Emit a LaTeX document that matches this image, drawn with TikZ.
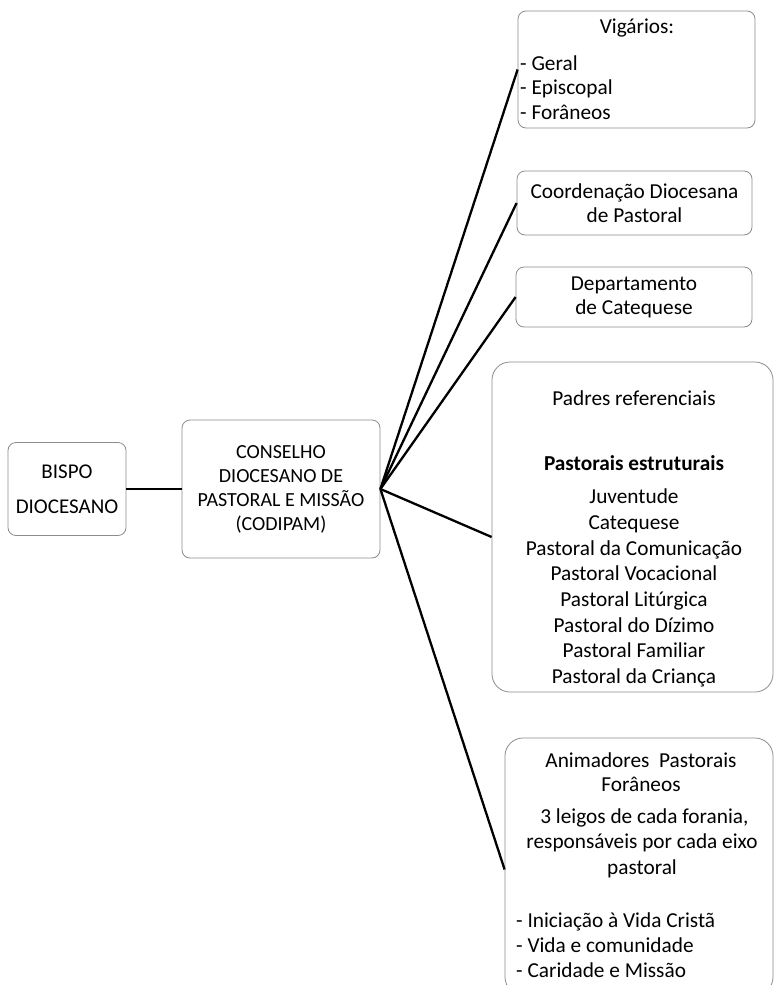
\documentclass[tikz,border=0pt]{standalone}
\usepackage{fontspec}
\setmainfont{Carlito}
\usepackage{tikz}

\tikzset{
  caixa/.style={draw=black!45, line width=0.8pt, rounded corners=8pt,
    font=\fontsize{21.3}{24}\selectfont, align=center, inner sep=0pt},
  caixagrande/.style={caixa, rounded corners=18pt},
  texto/.style={font=\fontsize{21.3}{24}\selectfont, align=center, inner sep=0pt},
  lista/.style={texto, align=left, anchor=west},
  ligacao/.style={line width=2.3pt},
}

\begin{document}
\begin{tikzpicture}[x=1pt,y=-1pt]
	\useasboundingbox (0,0) rectangle (775,985);
	
	% caixas da esquerda
	\node[caixa, minimum width=118pt, minimum height=93pt,
	      font=\fontsize{21}{35}\selectfont] (bispo) at (67,489) {BISPO\\DIOCESANO};
	\node[caixa, minimum width=198pt, minimum height=138pt,
	      font=\fontsize{20}{24}\selectfont] (conselho) at (281,489)
	      {CONSELHO\\DIOCESANO DE\\PASTORAL E MISSÃO\\(CODIPAM)};
	
	% caixas da direita
	\node[caixa, minimum width=237pt, minimum height=117pt] (vigarios) at (636.5,69.5) {};
	\node[caixa, minimum width=235pt, minimum height=64pt] (coord) at (634.5,203)
	      {Coordenação Diocesana\\de Pastoral};
	\node[caixa, minimum width=236pt, minimum height=60pt] (depto) at (634,297)
	      {Departamento\\de Catequese};
	\node[caixagrande, minimum width=281pt, minimum height=330pt] (padres) at (632.5,527) {};
	\node[caixagrande, minimum width=268pt, minimum height=257pt] (animad) at (639,866.5) {};
	
	% textos dentro das caixas
	\node[texto] (vigtit) at (637,28) {Vigários:};
	\node[lista, font=\fontsize{21.3}{24.5}\selectfont] (viglista) at (520,87.5)
	      {- Geral\\- Episcopal\\- Forâneos};
	
	\node[texto] (padtit) at (634,398) {Padres referenciais};
	\node[texto, font=\fontsize{21.3}{24}\selectfont\bfseries] (padsub) at (634,463) {Pastorais estruturais};
	\node[texto, font=\fontsize{21.3}{25.7}\selectfont] (padlista) at (634,588)
	      {Juventude\\Catequese\\Pastoral da Comunicação\\Pastoral Vocacional\\
	       Pastoral Litúrgica\\Pastoral do Dízimo\\Pastoral Familiar\\Pastoral da Criança};
	
	\node[texto] (animtit) at (641,772) {Animadores\ \ Pastorais\\Forâneos};
	\node[texto, font=\fontsize{21.3}{25.5}\selectfont] (animtxt) at (642,843)
	      {\ 3 leigos de cada forania,\\responsáveis por cada eixo\\pastoral};
	\node[lista, font=\fontsize{21.3}{25}\selectfont] (animlista) at (516,945)
	      {- Iniciação à Vida Cristã\\- Vida e comunidade\\- Caridade e Missão};
	
	% ligacoes
	\coordinate (leque) at (conselho.east);
	\draw[ligacao] (bispo.east) -- (conselho.west);
	\foreach \destino in {vigarios, coord, depto}{
		\draw[ligacao] (leque) -- (\destino.west);
	}
	\draw[ligacao] (leque) -- ([yshift=-10pt]padres.west);
	\draw[ligacao] (leque) -- ([yshift=-3pt]animad.west);
\end{tikzpicture}
\end{document}
